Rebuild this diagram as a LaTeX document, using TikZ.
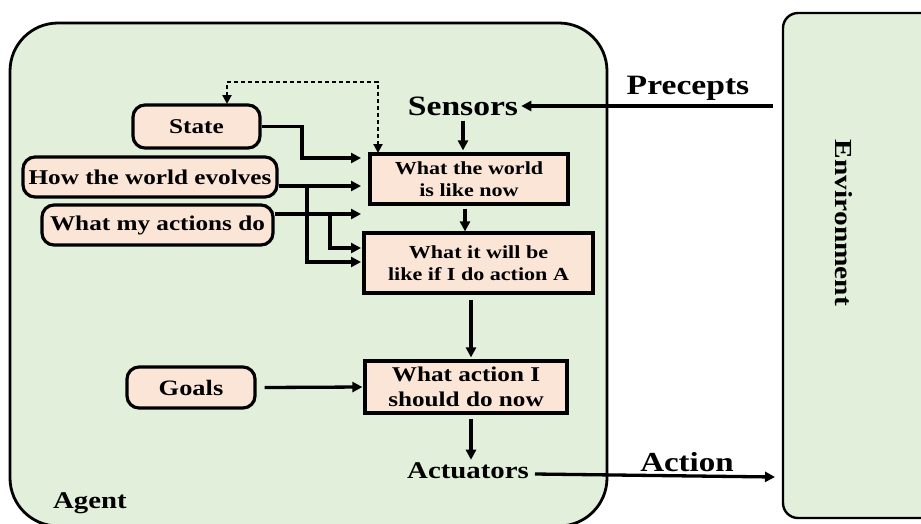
\documentclass[tikz,border=0pt]{standalone}
\usepackage{fontspec}
\setmainfont[FakeStretch=1.2]{Liberation Serif}
\usetikzlibrary{arrows.meta}
\definecolor{agentgreen}{HTML}{E2EFDA}
\definecolor{boxpink}{HTML}{FBE5D6}
\newcommand{\fsz}[1]{\fontsize{#1}{1.2\dimexpr#1pt\relax}\selectfont\bfseries}
\tikzset{
  roundbox/.style={draw, line width=3.2pt, fill=boxpink, rounded corners=12pt,
    inner sep=0pt, align=center, font=\fsz{21}},
  squarebox/.style={draw, line width=3.2pt, fill=boxpink, inner sep=0pt,
    align=center, font=\fsz{18.4}},
  label/.style={inner sep=0pt, font=\fsz{#1}},
  flow/.style={line width=3.3pt, -{Triangle[length=10pt,width=10pt]}},
  memo/.style={line width=2.1pt, dash pattern=on 4pt off 3pt,
    {Triangle[length=9pt,width=9pt]}-{Triangle[length=9pt,width=9pt]}},
}
\begin{document}
\begin{tikzpicture}[x=1pt,y=-1pt]
\useasboundingbox (0,0) rectangle (921,523);
\clip (0,0) rectangle (921,523);

% agent and environment frames
\draw[line width=2.8pt, fill=agentgreen, rounded corners=48pt] (10,23) rectangle (607,526);
\draw[line width=2.4pt, fill=agentgreen, rounded corners=15pt] (783,13) rectangle (945,518);
\node[label=24.5, rotate=-90] (env) at (844,223) {Environment};
\node[label=24] (agent) at (90,503) {Agent};

% knowledge boxes on the left
\node[roundbox, minimum width=127pt, minimum height=43pt] (state) at (196.5,126.5) {State};
\node[roundbox, minimum width=254pt, minimum height=40pt] (evolves) at (150,177) {How the world evolves};
\node[roundbox, minimum width=231pt, minimum height=40pt] (actions) at (157.5,225) {What my actions do};
\node[roundbox, minimum width=128pt, minimum height=41pt, font=\fsz{22}] (goals) at (191,387.5) {Goals};

% reasoning chain
\node[label=28] (sensors) at (463,106) {Sensors};
\node[squarebox, minimum width=198pt, minimum height=50pt] (now) at (469,179) {What the world\\is like now};
\node[squarebox, minimum width=229pt, minimum height=60pt] (ifa) at (478.5,263) {What it will be\\like if I do action A};
\node[squarebox, minimum width=202pt, minimum height=52pt, font=\fsz{21}] (todo) at (466,387) {What action I\\should do now};
\node[label=24] (actuators) at (468,471) {Actuators};

% edge labels
\node[label=28] (precepts) at (688,88) {Precepts};
\node[label=27.5] (action) at (687,462) {Action};

% free ends of the connectors
\coordinate (percin) at (773,106);
\coordinate (actout) at (775,477);
\coordinate (t1) at (361,158);
\coordinate (t2) at (361,186);
\coordinate (t3) at (361,214);
\coordinate (t4) at (361,248);
\coordinate (t5) at (361,262);
\coordinate (stin) at (227,104);
\coordinate (nowin) at (378,153);

% environment <-> agent
\draw[flow] (percin) -- ([xshift=3pt]sensors.east);
\draw[flow] ([xshift=6pt,yshift=-3pt]actuators.east) -- (actout);

% vertical chain
\draw[flow] ([yshift=-5pt]sensors.south) -- ([yshift=2pt]sensors.south |- now.north);
\draw[flow] ([xshift=-4pt,yshift=-3pt]now.south) -- ([xshift=-4pt]now.south |- ifa.north);
\draw[flow] ([xshift=-7.5pt,yshift=-5pt]ifa.south) -- ([xshift=-7.5pt,yshift=2pt]ifa.south |- todo.north);
\draw[flow] ([xshift=5pt,yshift=-4pt]todo.south) -- ([xshift=5pt,yshift=3pt]todo.south |- actuators.north);
\draw[flow] ([xshift=8pt]goals.east) -- ([xshift=-1pt]todo.west);

% inputs from the knowledge boxes
\draw[flow] (state.east) -- (302,126.5) |- (t1);
\draw[flow] ([yshift=-9pt]evolves.east) -- (t2);
\draw[flow] (307,186) |- (t5);
\draw[flow] ([yshift=11pt]actions.east) -- (t3);
\draw[flow] (330,214) |- (t4);

% state update loop
\draw[memo] (stin) -- ++(0,-22) -| (nowin);
\end{tikzpicture}
\end{document}
